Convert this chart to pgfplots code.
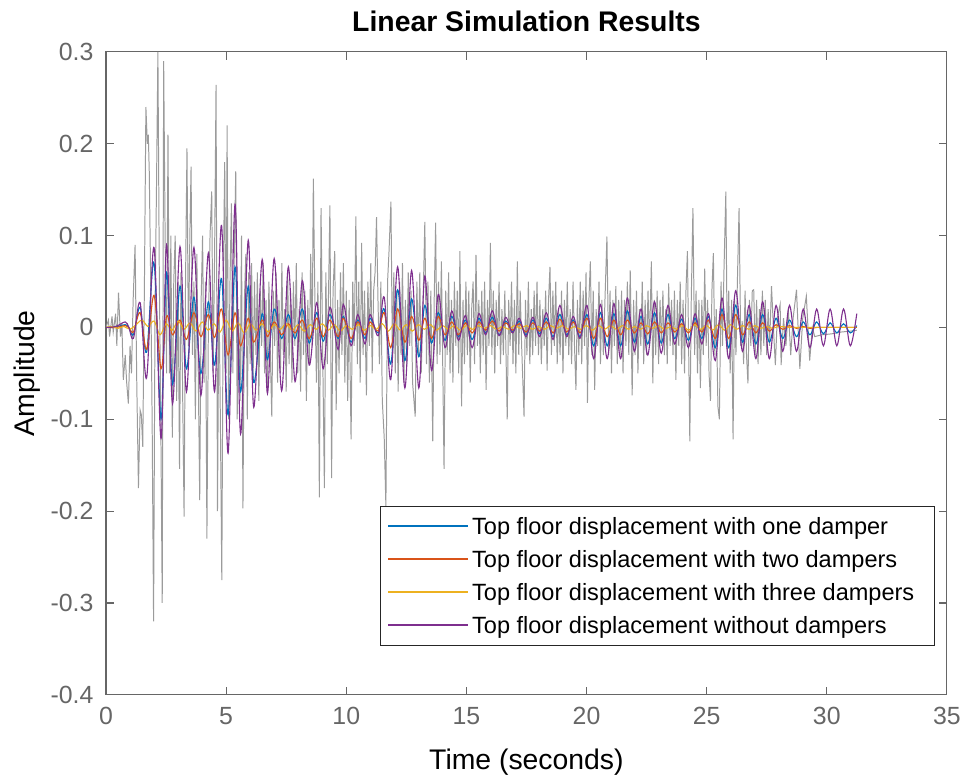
\documentclass[border=0pt]{standalone}
\usepackage{pgfplots}
\pgfplotsset{compat=1.18}
\usepackage{pgfplotstable}
\usepackage{fontspec}
\setmainfont{Liberation Sans}

\definecolor{mblue}{RGB}{0,114,189}
\definecolor{mred}{RGB}{217,83,25}
\definecolor{myellow}{RGB}{237,177,32}
\definecolor{mpurple}{RGB}{126,47,142}
\definecolor{mgray}{RGB}{155,155,155}
\definecolor{axisgray}{RGB}{102,102,102}
\definecolor{legframe}{RGB}{38,38,38}

% oscillation extremes: time, no dampers, one damper, two dampers
\pgfplotstableread{
t      p       b       r
0      0       0       0
0.40   0.001   0.0005  0.000
0.80   0.006   0.003   0.002
0.95   0.000   0.000   0.000
1.14  -0.012  -0.008  -0.005
1.42   0.027   0.022   0.016
1.69  -0.055  -0.027  -0.024
2.00   0.087   0.070   0.035
2.29  -0.121  -0.100  -0.045
2.52   0.090   0.060   0.012
2.77  -0.083  -0.062  -0.008
3.08   0.088   0.045   0.008
3.35  -0.070  -0.045  -0.013
3.66   0.087   0.033   0.016
3.95  -0.074  -0.050  -0.010
4.26   0.081   0.028   0.014
4.52  -0.070  -0.041  -0.011
4.81   0.111   0.053   0.020
5.08  -0.137  -0.095  -0.030
5.37   0.134   0.066   0.016
5.60  -0.116  -0.070  -0.020
5.92   0.095   0.045   0.010
6.15  -0.087  -0.060  -0.016
6.50   0.074   0.015   0.008
6.72  -0.072  -0.035  -0.010
7.00   0.075   0.020   0.006
7.31  -0.069  -0.012  -0.008
7.59   0.066   0.014   0.004
7.87  -0.059  -0.012  -0.006
8.17   0.051   0.020   0.008
8.46  -0.041  -0.017  -0.012
8.77   0.027   0.016   0.010
9.04  -0.045  -0.015  -0.010
9.32   0.022   0.014   0.008
9.66  -0.024  -0.012  -0.010
9.88   0.025   0.012   0.010
10.20 -0.020  -0.016  -0.012
10.48  0.014   0.008   0.006
10.78 -0.018  -0.012  -0.008
10.99  0.014   0.010   0.006
11.33 -0.009  -0.006  -0.004
11.58  0.033   0.020   0.016
11.85 -0.057  -0.040  -0.022
12.14  0.066   0.041   0.020
12.44 -0.066  -0.036  -0.016
12.72  0.062   0.031   0.012
13.02 -0.066  -0.032  -0.014
13.27  0.056   0.024   0.010
13.55 -0.047  -0.017  -0.012
13.83  0.036   0.016   0.012
14.11 -0.022  -0.014  -0.008
14.39  0.018   0.012   0.006
14.67 -0.014  -0.010  -0.008
14.96  0.013   0.008   0.005
15.24 -0.022  -0.013  -0.006
15.52  0.015   0.010   0.006
15.80 -0.008  -0.006  -0.003
16.08  0.018   0.011   0.007
16.36 -0.009  -0.008  -0.004
16.64  0.011   0.007   0.005
16.92 -0.006  -0.005  -0.003
17.20  0.010   0.007   0.004
17.48 -0.010  -0.008  -0.005
17.77  0.011   0.008   0.005
18.05 -0.010  -0.007  -0.004
18.33  0.016   0.010   0.006
18.61 -0.013  -0.010  -0.006
18.89  0.024   0.014   0.009
19.17 -0.010  -0.008  -0.005
19.45  0.012   0.008   0.006
19.73 -0.012  -0.010  -0.006
20.02  0.024   0.014   0.010
20.30 -0.034  -0.020  -0.012
20.58  0.025   0.016   0.010
20.86 -0.034  -0.020  -0.010
21.14  0.026   0.015   0.008
21.42 -0.034  -0.020  -0.008
21.70  0.032   0.018   0.008
21.99 -0.026  -0.016  -0.006
22.27  0.020   0.012   0.005
22.55 -0.030  -0.018  -0.007
22.83  0.028   0.016   0.006
23.11 -0.028  -0.017  -0.006
23.39  0.024   0.014   0.005
23.67 -0.018  -0.012  -0.005
23.96  0.014   0.009   0.004
24.24 -0.022  -0.014  -0.006
24.52  0.015   0.010   0.005
24.80 -0.018  -0.012  -0.005
25.08  0.015   0.012   0.008
25.36 -0.036  -0.022  -0.012
25.64  0.032   0.020   0.014
25.92 -0.034  -0.022  -0.012
26.21  0.040   0.024   0.014
26.49 -0.026  -0.016  -0.008
26.77  0.024   0.014   0.006
27.05 -0.034  -0.018  -0.006
27.33  0.028   0.014   0.005
27.61 -0.034  -0.016  -0.004
27.89  0.024   0.010   0.003
28.17 -0.026  -0.012  -0.002
28.45  0.024   0.008   0.002
28.74 -0.026  -0.010  -0.001
29.02  0.020   0.006   0.001
29.30 -0.022  -0.008  -0.001
29.58  0.020   0.006   0.000
29.86 -0.020  -0.007   0.000
30.14  0.020   0.005   0.000
30.42 -0.020  -0.006   0.000
30.70  0.020   0.004   0.000
30.98 -0.020  -0.006   0.000
31.25  0.015   0.002   0.000
}\osc

% three dampers
\pgfplotstableread{
t     y
0     0
0.25  0.001
0.5  -0.001
0.75  0.001
1.0  -0.002
1.25  0.003
1.5   0.008
1.75  0.001
2.0   0.007
2.25 -0.008
2.5   0.004
2.75 -0.003
3.0   0.007
3.25 -0.002
3.5   0.005
3.75 -0.004
4.0   0.006
4.25 -0.003
4.5   0.004
4.75 -0.005
5.0   0.008
5.25 -0.004
5.5   0.005
5.75 -0.006
6.0   0.004
6.25 -0.003
6.5   0.004
6.75 -0.005
7.0   0.003
7.25 -0.002
7.5   0.004
7.75 -0.003
8.0   0.003
8.25 -0.004
8.5   0.003
8.75 -0.002
9.0   0.004
9.25 -0.003
9.5   0.003
9.75 -0.004
10.0  0.002
10.25 -0.002
10.5  0.003
10.75 -0.003
11.0  0.002
11.25 -0.002
11.5  0.004
11.75 -0.004
12.0  0.004
12.25 -0.003
12.5  0.003
12.75 -0.004
13.0  0.003
13.25 -0.002
13.5  0.003
13.75 -0.003
14.0  0.002
14.25 -0.002
14.5  0.002
14.75 -0.003
15.0  0.002
15.25 -0.002
15.5  0.002
15.75 -0.001
16.0  0.002
16.25 -0.002
16.5  0.001
16.75 -0.002
17.0  0.002
17.25 -0.001
17.5  0.002
17.75 -0.002
18.0  0.001
18.25 -0.002
18.5  0.002
18.75 -0.001
19.0  0.002
19.25 -0.002
19.5  0.001
19.75 -0.002
20.0  0.002
20.25 -0.003
20.5  0.002
20.75 -0.002
21.0  0.002
21.25 -0.002
21.5  0.002
21.75 -0.002
22.0  0.001
22.25 -0.002
22.5  0.002
22.75 -0.001
23.0  0.002
23.25 -0.002
23.5  0.001
23.75 -0.002
24.0  0.002
24.25 -0.003
24.5  0.003
24.75 -0.002
25.0  0.002
25.25 -0.003
25.5  0.003
25.75 -0.003
26.0  0.003
26.25 -0.002
26.5  0.002
26.75 -0.002
27.0  0.002
27.25 -0.001
27.5  0.001
27.75 -0.001
28.0  0.001
28.5  0.0
29.0  0.0
30.0  0.0
31.2  0.0
}\three

\begin{document}
\begin{tikzpicture}
\begin{axis}[
    scale only axis,
    width=382.3pt, height=292.3pt,
    xmin=0, xmax=35, ymin=-0.4, ymax=0.3,
    xtick={0,5,10,15,20,25,30,35},
    ytick={-0.4,-0.3,-0.2,-0.1,0,0.1,0.2,0.3},
    tick align=inside,
    major tick length=3.6pt,
    axis line style={axisgray, line width=0.5pt},
    every tick/.style={axisgray, line width=0.5pt},
    tick label style={font=\fontsize{11.3}{13.5}\selectfont, text=axisgray},
    /pgf/number format/assume math mode=true,
    xticklabel style={anchor=base, yshift=-13.6pt},
    yticklabel style={anchor=east, inner sep=0pt, xshift=-5.5pt},
    xlabel={Time (seconds)},
    xlabel style={at={(axis description cs:0.5,-0.1163)}, anchor=base, font=\fontsize{12.9}{15}\selectfont},
    ylabel={Amplitude},
    ylabel style={at={(axis description cs:-0.0935,0.5)}, anchor=center, font=\fontsize{12.9}{15}\selectfont},
    legend cell align=left,
    legend image code/.code={\draw[#1, line width=0.9pt] (0pt,0pt) -- (36.4pt,0pt);},
    legend style={at={(axis cs:34.5,-0.3466)}, anchor=south east,
        draw=legframe, line width=0.5pt, fill=white,
        font=\fontsize{10.7}{12.5}\selectfont,
        inner xsep=3pt, inner ysep=2.5pt, row sep=1.9pt,
        nodes={inner sep=1.3pt, text height=8.9pt, text depth=1.6pt}},
    every axis plot/.append style={line width=0.5pt},
]
\addplot[draw=mgray, line width=0.45pt, forget plot] coordinates {
(0,0) (0.1,0.008) (0.15,-0.01) (0.25,0.012) (0.3,-0.005) (0.4,0.015) (0.45,-0.02)
(0.52,0.038) (0.6,-0.01) (0.66,0.005) (0.72,-0.057) (0.8,-0.03) (0.86,-0.06)
(0.93,-0.083) (1.0,-0.02) (1.06,-0.05) (1.13,0.03) (1.21,0.09) (1.28,-0.06)
(1.35,-0.175) (1.42,-0.09) (1.47,-0.095) (1.53,-0.13) (1.6,0.05) (1.66,0.24)
(1.72,0.2) (1.76,0.21) (1.8,0.17) (1.86,0.05) (1.92,-0.1) (1.98,-0.32) (2.04,0.02)
(2.1,0.15) (2.16,0.3) (2.22,0.05) (2.28,-0.1) (2.34,-0.3) (2.4,0.29) (2.46,0.1)
(2.52,-0.05) (2.58,0.21) (2.64,-0.05) (2.7,0.1) (2.76,-0.12) (2.82,0.05) (2.88,0.1)
(2.94,-0.08) (3.0,0.05) (3.06,-0.154) (3.12,0.06) (3.18,-0.05) (3.25,-0.206)
(3.31,0.05) (3.37,0.195) (3.43,-0.02) (3.49,0.1) (3.54,0.175) (3.6,-0.03) (3.66,0.05)
(3.72,-0.1) (3.78,0.08) (3.84,-0.05) (3.9,-0.188) (3.96,0.03) (4.02,0.1) (4.08,-0.06)
(4.14,0.05) (4.2,-0.23) (4.26,0.0) (4.33,0.1) (4.4,0.148) (4.46,-0.05) (4.52,0.08)
(4.58,0.264) (4.64,-0.2) (4.7,0.04) (4.76,-0.1) (4.82,-0.275) (4.88,0.05) (4.94,0.18)
(5.0,-0.05) (5.04,0.22) (5.1,-0.1) (5.16,0.05) (5.22,0.135) (5.28,-0.05) (5.34,0.08)
(5.4,0.17) (5.46,-0.1) (5.52,0.02) (5.58,-0.08) (5.64,0.1) (5.7,-0.197) (5.76,0.03)
(5.82,0.08) (5.88,-0.1) (5.94,0.06) (6.0,-0.04) (6.06,0.07) (6.12,-0.06) (6.18,0.05)
(6.24,-0.03) (6.3,0.06) (6.36,-0.08) (6.42,0.04) (6.48,-0.02) (6.54,0.07) (6.6,-0.05)
(6.66,0.03) (6.72,-0.07) (6.78,0.05) (6.84,-0.03) (6.9,-0.097) (6.96,0.04) (7.02,-0.02)
(7.08,0.06) (7.14,-0.06) (7.2,0.03) (7.26,-0.05) (7.32,0.07) (7.38,-0.03) (7.44,0.02)
(7.5,-0.07) (7.56,0.06) (7.62,-0.04) (7.68,0.04) (7.74,-0.06) (7.8,0.05) (7.86,-0.02)
(7.92,0.07) (7.98,-0.05) (8.04,0.02) (8.1,-0.07) (8.16,0.06) (8.22,-0.03) (8.28,0.04)
(8.34,-0.08) (8.4,0.03) (8.46,-0.04) (8.52,0.08) (8.58,-0.02) (8.63,0.162) (8.7,0.02)
(8.76,-0.06) (8.82,0.05) (8.88,-0.185) (8.95,0.13) (9.02,-0.03) (9.09,-0.175)
(9.15,0.06) (9.21,-0.04) (9.27,0.05) (9.32,0.133) (9.39,-0.164) (9.45,0.04) (9.52,0.083)
(9.58,-0.09) (9.64,0.03) (9.7,-0.05) (9.76,0.06) (9.82,-0.03) (9.88,0.07) (9.94,-0.06)
(10.0,0.04) (10.06,-0.08) (10.12,0.03) (10.2,-0.122) (10.27,0.05) (10.33,-0.02)
(10.4,0.121) (10.46,-0.04) (10.52,0.05) (10.58,-0.06) (10.64,0.092) (10.7,-0.03)
(10.76,0.04) (10.84,-0.074) (10.9,0.05) (10.96,-0.02) (11.02,0.07) (11.08,-0.05)
(11.14,0.04) (11.2,0.06) (11.26,0.12) (11.32,0.03) (11.38,-0.04) (11.44,0.05)
(11.5,-0.08) (11.58,-0.12) (11.65,-0.195) (11.72,0.05) (11.78,0.083) (11.86,0.137)
(11.92,-0.03) (11.98,0.06) (12.04,-0.05) (12.1,0.04) (12.16,-0.07) (12.22,0.05)
(12.28,-0.03) (12.34,0.07) (12.4,-0.06) (12.46,0.03) (12.52,-0.04) (12.58,0.06)
(12.64,-0.02) (12.7,0.04) (12.76,-0.06) (12.87,-0.097) (12.94,0.05) (13.0,-0.03)
(13.06,0.06) (13.12,-0.05) (13.2,0.03) (13.27,0.115) (13.34,-0.04) (13.4,0.05)
(13.46,-0.06) (13.52,0.04) (13.6,-0.124) (13.66,0.03) (13.72,0.114) (13.78,-0.04)
(13.84,0.05) (13.9,-0.03) (13.96,0.072) (14.02,-0.05) (14.07,-0.154) (14.14,0.04)
(14.2,-0.03) (14.26,0.06) (14.32,-0.05) (14.38,0.03) (14.44,-0.06) (14.5,0.05)
(14.56,-0.02) (14.62,0.04) (14.68,-0.05) (14.73,0.083) (14.8,-0.086) (14.86,0.03)
(14.92,-0.04) (14.98,0.05) (15.04,-0.03) (15.1,0.04) (15.16,-0.06) (15.22,0.02)
(15.28,0.05) (15.34,-0.04) (15.4,0.079) (15.46,-0.02) (15.52,0.03) (15.58,-0.05)
(15.64,0.04) (15.7,-0.03) (15.76,0.05) (15.82,-0.068) (15.88,0.03) (15.94,-0.02)
(16.0,0.092) (16.06,-0.03) (16.12,0.04) (16.18,-0.05) (16.24,0.03) (16.3,-0.02)
(16.36,0.05) (16.42,-0.04) (16.48,0.02) (16.54,-0.03) (16.6,0.04) (16.7,-0.1)
(16.76,0.03) (16.82,-0.02) (16.88,0.05) (16.94,-0.04) (17.0,0.03) (17.06,-0.05)
(17.12,0.072) (17.18,-0.03) (17.24,0.04) (17.3,-0.02) (17.4,-0.097) (17.46,0.03)
(17.52,-0.03) (17.58,0.05) (17.64,-0.04) (17.7,0.02) (17.76,-0.03) (17.82,0.04)
(17.88,-0.02) (17.94,0.05) (18.0,-0.03) (18.06,0.03) (18.12,-0.04) (18.18,0.02)
(18.24,-0.02) (18.3,0.04) (18.36,-0.047) (18.42,0.03) (18.48,0.066) (18.54,-0.03)
(18.6,0.04) (18.66,-0.02) (18.72,0.05) (18.78,-0.04) (18.84,0.02) (18.9,-0.03)
(18.96,0.04) (19.02,-0.05) (19.08,0.03) (19.14,-0.02) (19.2,0.05) (19.26,-0.03)
(19.32,0.02) (19.38,-0.04) (19.44,0.05) (19.5,-0.02) (19.56,-0.068) (19.62,0.03)
(19.68,-0.03) (19.74,0.05) (19.8,-0.04) (19.86,0.04) (19.92,-0.02) (19.98,0.06)
(20.04,-0.082) (20.1,0.03) (20.16,0.072) (20.22,-0.03) (20.28,0.04) (20.34,-0.068)
(20.4,0.02) (20.46,-0.02) (20.52,0.05) (20.58,-0.04) (20.64,0.03) (20.7,-0.03)
(20.78,0.04) (20.85,0.099) (20.92,-0.03) (20.98,0.04) (21.04,-0.05) (21.1,0.03)
(21.16,-0.02) (21.22,0.045) (21.28,-0.04) (21.34,0.03) (21.4,-0.03) (21.46,0.04)
(21.52,-0.05) (21.58,0.03) (21.64,-0.02) (21.7,0.05) (21.76,-0.03) (21.82,0.062)
(21.9,-0.074) (21.96,0.03) (22.02,-0.03) (22.08,0.04) (22.14,-0.05) (22.2,0.02)
(22.26,-0.02) (22.32,0.05) (22.38,-0.04) (22.44,0.03) (22.5,-0.03) (22.56,0.04)
(22.62,-0.02) (22.7,0.072) (22.76,-0.061) (22.82,0.03) (22.88,-0.03) (22.94,0.04)
(23.0,-0.04) (23.06,0.03) (23.12,-0.02) (23.18,0.04) (23.24,-0.03) (23.3,0.02)
(23.36,-0.04) (23.42,0.048) (23.48,-0.02) (23.54,0.03) (23.6,-0.03) (23.66,0.04)
(23.72,-0.057) (23.78,0.03) (23.84,-0.02) (23.9,0.05) (23.96,-0.04) (24.02,0.03)
(24.08,-0.05) (24.14,0.04) (24.2,0.083) (24.3,-0.124) (24.36,0.03) (24.43,0.13)
(24.5,-0.03) (24.56,0.04) (24.62,-0.05) (24.68,0.03) (24.74,-0.066) (24.8,0.03)
(24.86,-0.03) (24.92,0.064) (24.98,-0.02) (25.04,0.03) (25.1,-0.05) (25.16,-0.08)
(25.22,0.04) (25.28,0.081) (25.34,-0.03) (25.4,0.02) (25.47,-0.086) (25.53,-0.1)
(25.6,0.05) (25.66,-0.02) (25.72,0.06) (25.8,0.148) (25.86,-0.03) (25.92,0.04)
(25.98,-0.05) (26.04,0.03) (26.1,-0.122) (26.16,0.03) (26.22,-0.03) (26.28,0.05)
(26.35,0.13) (26.42,-0.02) (26.48,0.007) (26.54,-0.04) (26.6,0.04) (26.66,-0.03)
(26.72,-0.061) (26.78,0.03) (26.84,-0.02) (26.9,0.04) (26.96,0.041) (27.02,-0.03)
(27.08,0.03) (27.14,-0.04) (27.2,0.02) (27.26,-0.03) (27.32,0.04) (27.38,-0.02)
(27.44,0.03) (27.5,-0.03) (27.56,0.02) (27.62,-0.02) (27.7,0.045) (27.78,0.0)
(27.86,-0.041) (27.94,0.01) (28.06,0.025) (28.1,-0.041) (28.2,0.01) (28.3,-0.02)
(28.4,0.02) (28.5,-0.03) (28.6,0.01) (28.74,0.041) (28.88,-0.045) (29.0,0.01)
(29.15,0.034) (29.29,-0.036) (29.4,0.0) (29.5,-0.01) (29.8,-0.008) (30.2,-0.007)
(30.6,-0.005) (31.0,-0.004) (31.25,-0.003)
};
\addplot[draw=mblue, smooth, tension=0.55] table[x=t, y=b] {\osc};
\addlegendentry{Top floor displacement with one damper}
\addplot[draw=mred, smooth, tension=0.55] table[x=t, y=r] {\osc};
\addlegendentry{Top floor displacement with two dampers}
\addplot[draw=myellow, smooth, tension=0.55] table[x=t, y=y] {\three};
\addlegendentry{Top floor displacement with three dampers\hspace*{4.8pt}}
\addplot[draw=mpurple, smooth, tension=0.55] table[x=t, y=p] {\osc};
\addlegendentry{Top floor displacement without dampers}
\end{axis}
\node[anchor=base, font=\fontsize{12.9}{15}\selectfont\bfseries]
    at ([yshift=9.2pt]current axis.north) {Linear Simulation Results};
\pgfresetboundingbox
\path[use as bounding box] ([xshift=-48.2pt,yshift=-38.6pt]current axis.south west)
    rectangle ([xshift=9.6pt,yshift=23.6pt]current axis.north east);
\end{tikzpicture}
\end{document}
